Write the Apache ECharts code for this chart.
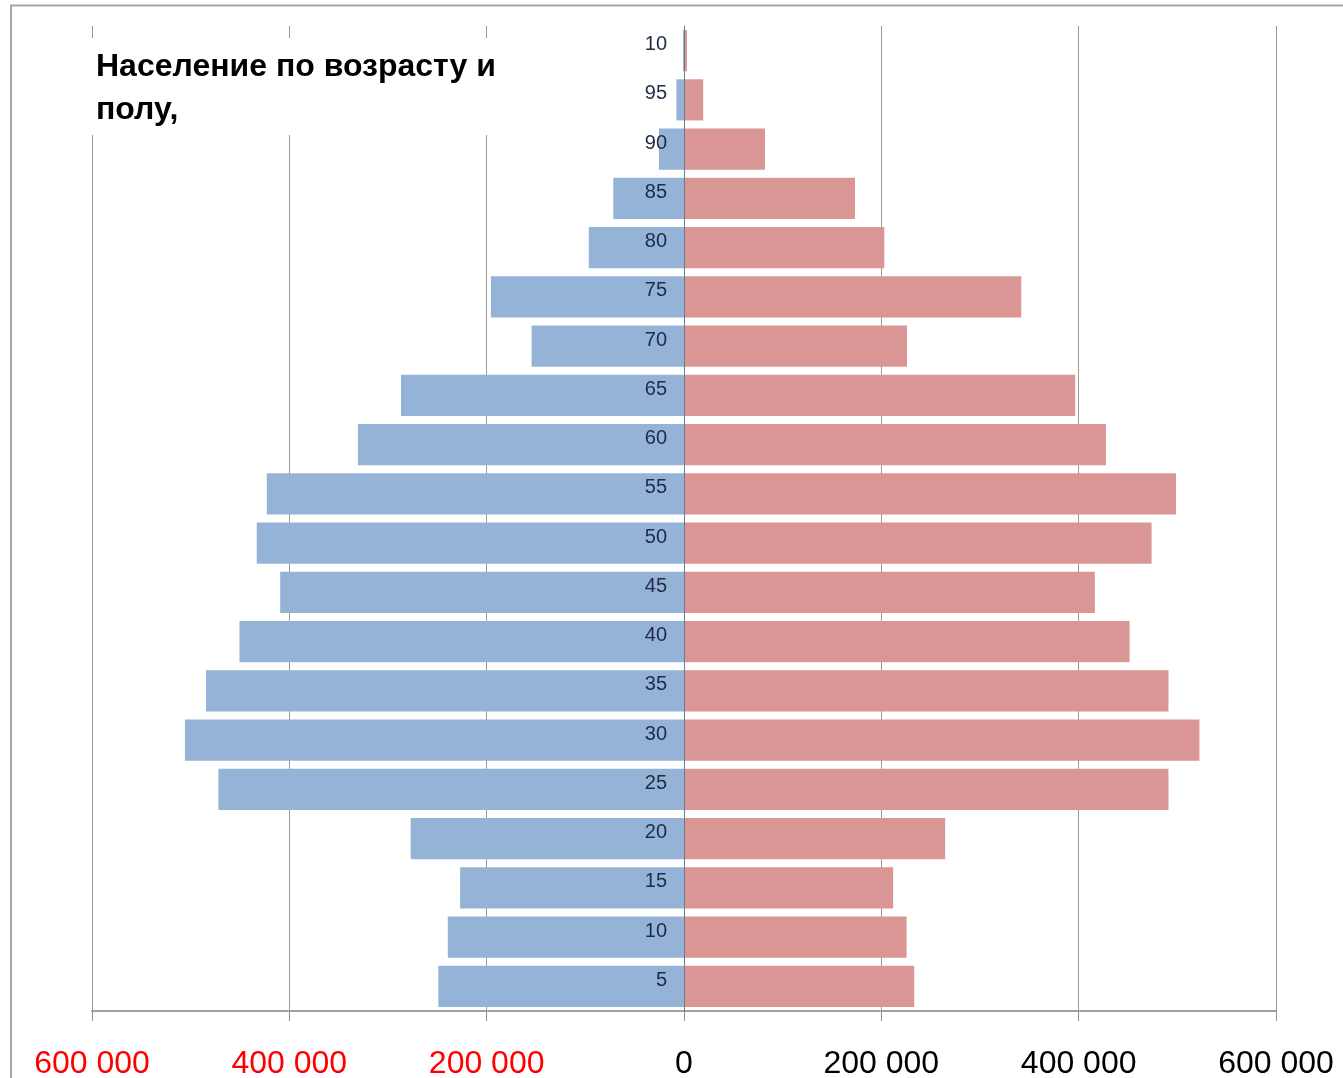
<!DOCTYPE html>
<html>
<head>
<meta charset="utf-8">
<script src="https://cdn.jsdelivr.net/npm/echarts@6/dist/echarts.min.js"></script>
<style>
  html, body { margin: 0; padding: 0; background: #fff; }
  #chart { width: 1343px; height: 1078px; }
</style>
</head>
<body>
<div id="chart"></div>
<script>
// Age groups, bottom to top (top label is shown as "10" in the source)
var ageLabels = ['5','10','15','20','25','30','35','40','45','50','55','60','65','70','75','80','85','90','95','10'];
// Men (drawn to the left)
var maleValues = [249000, 239400, 226900, 277000, 471900, 505800, 484500, 450500, 409300, 433000,
                  422800, 330500, 286800, 154500, 195700, 96500, 71700, 25400, 7700, 1000];
// Women (drawn to the right)
var femaleValues = [233300, 225600, 212000, 264700, 491000, 522400, 491000, 451600, 416400, 473900,
                    498700, 427600, 396500, 226000, 341800, 203000, 173300, 82100, 19500, 3000];
var xTicks = { min: -600000, max: 600000, interval: 200000 };
var titleText = 'Население по возрасту и\nполу,';

var FONT = "'Liberation Sans', Arial, sans-serif";

function fmt(v) {
  var a = Math.abs(v);
  return String(a).replace(/\B(?=(\d{3})+(?!\d))/g, ' ');
}

var chart = echarts.init(document.getElementById('chart'), null, { renderer: 'canvas' });
chart.setOption({
  backgroundColor: '#ffffff',
  animation: false,
  graphic: [{
    type: 'rect',
    shape: { x: 11, y: 5.5, width: 1400, height: 1200 },
    style: { fill: 'none', stroke: '#a6a6a6', lineWidth: 2 },
    silent: true,
    z: 100
  }],
  title: {
    text: titleText,
    left: 86,
    top: 38,
    padding: [8, 10, 3, 10],
    backgroundColor: '#ffffff',
    textStyle: {
      fontFamily: FONT,
      fontSize: 32,
      fontWeight: 'bold',
      lineHeight: 43,
      color: '#000000'
    },
    z: 20
  },
  grid: {
    left: 92,
    right: 67,
    top: 26,
    bottom: 67,
    containLabel: false,
    outerBoundsMode: 'none'
  },
  xAxis: {
    type: 'value',
    min: xTicks.min,
    max: xTicks.max,
    interval: xTicks.interval,
    axisLine: { show: true, lineStyle: { color: '#a0a0a0', width: 2 } },
    axisTick: { show: true, length: 10, lineStyle: { color: '#909090', width: 1 } },
    splitLine: { show: true, lineStyle: { color: '#9a9a9a', width: 1 } },
    axisLabel: {
      margin: 37,
      fontFamily: FONT,
      fontSize: 32,
      formatter: fmt,
      color: function (v) { return Number(v) < 0 ? '#ff0000' : '#000000'; }
    }
  },
  yAxis: {
    type: 'category',
    data: ageLabels,
    position: 'left',
    offset: -592,
    z: 10,
    axisLine: { show: true, onZero: false, lineStyle: { color: '#6f7a88', width: 1 } },
    axisTick: { show: false },
    splitLine: { show: false },
    axisLabel: {
      margin: 17,
      verticalAlign: 'bottom',
      lineHeight: 12,
      fontFamily: FONT,
      fontSize: 20,
      color: '#1f2b45'
    }
  },
  series: [
    {
      name: 'Мужчины',
      type: 'bar',
      stack: 'pop',
      barCategoryGap: '16.5%',
      itemStyle: { color: '#95b3d7' },
      data: maleValues.map(function (v) { return -v; })
    },
    {
      name: 'Женщины',
      type: 'bar',
      stack: 'pop',
      barCategoryGap: '16.5%',
      itemStyle: { color: '#d99694' },
      data: femaleValues.slice()
    }
  ]
});
</script>
</body>
</html>
